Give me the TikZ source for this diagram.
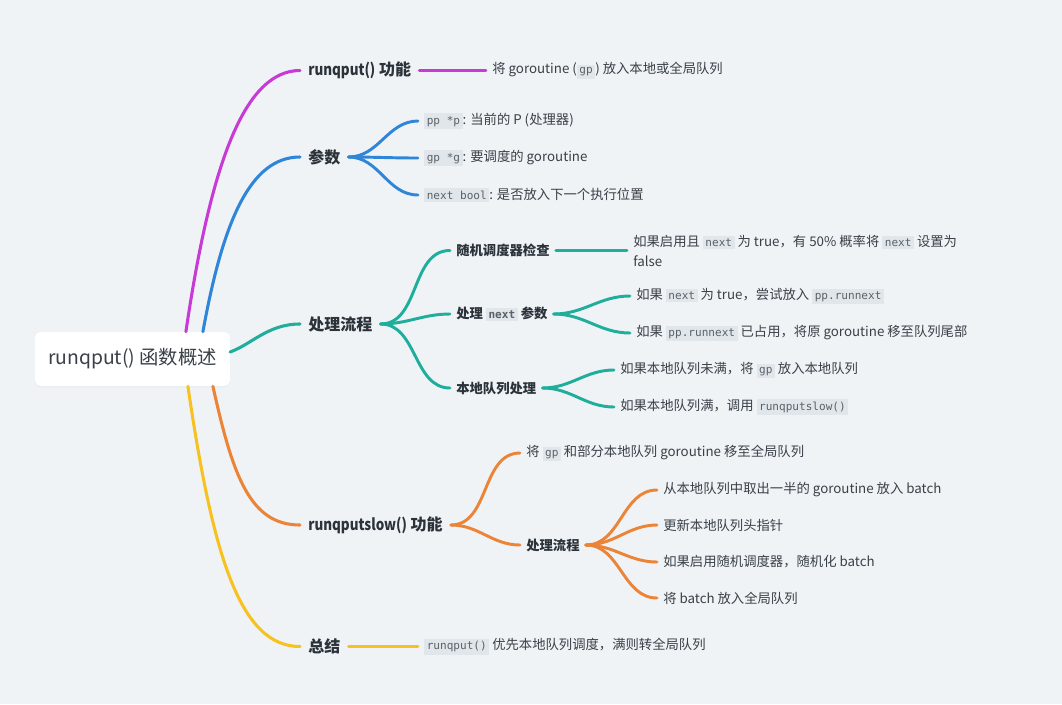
\documentclass[tikz,border=0pt]{standalone}
\usepackage{fontspec}
\setmainfont{Noto Sans CJK SC}
\setmonofont{DejaVu Sans Mono}
\newfontfamily\narrowlat{Noto Sans CJK SC}[FakeStretch=0.84]
\usepackage{tikz}
\usetikzlibrary{calc,shadows}

\definecolor{bgcol}{HTML}{EFF3F6}
\definecolor{codebg}{HTML}{E1E6EB}
\definecolor{codefg}{HTML}{5B6169}
\definecolor{txt}{HTML}{3A4048}
\definecolor{head}{HTML}{2B323A}
\definecolor{cmag}{HTML}{C83AD6}
\definecolor{cblue}{HTML}{2F86D8}
\definecolor{cteal}{HTML}{1FAE9B}
\definecolor{corange}{HTML}{EC8438}
\definecolor{cyellow}{HTML}{F7C21F}

\newcommand{\code}[1]{{\setlength{\fboxsep}{1.9pt}\colorbox{codebg}{\color{codefg}\ttfamily\fontsize{8.3}{9}\selectfont #1}}}

\begin{document}
\begin{tikzpicture}[
        x=0.75pt, y=-0.75pt,
        line cap=round,
        line join=round,
        rootbox/.style={fill=white, rounded corners=4pt, minimum width=146pt, minimum height=40.5pt,
            text=txt, font=\fontsize{14.5}{18}\selectfont,
            drop shadow={opacity=0.06, shadow xshift=0pt, shadow yshift=-1pt}},
        lvl1/.style={anchor=west, inner xsep=6pt, text=head, font=\fontsize{12}{14}\bfseries\selectfont},
        lvl2/.style={anchor=west, inner xsep=4.5pt, text=head, font=\fontsize{10}{13}\bfseries\selectfont},
        leaf/.style={anchor=west, inner xsep=4.5pt, text=txt, font=\fontsize{10}{15}\selectfont, align=left},
        trunk/.style={line width=2.3pt},
        link/.style={line width=2.2pt, out=0, in=180}
    ]
        \useasboundingbox[fill=bgcol] (0,0) rectangle (1062,704);

        \node[rootbox] (root) at (132.5,359) {runqput() 函数概述};

        % runqput() 功能
        \begin{scope}
            \node[lvl1] (fn) at (300,70.5) {{\narrowlat runqput()} 功能};
            \node[leaf] (fnleaf) at (486,70.5) {将 goroutine (\code{gp}) 放入本地或全局队列};

            \draw[trunk, cmag] ($(root.north west)+(151,0)$) .. controls +(25,-170) and +(-55,0) .. (fn.west);
            \draw[link, cmag] (fn.east) -- (fnleaf.west);
        \end{scope}

        % 参数
        \begin{scope}
            \node[lvl1] (param) at (300,157) {参数};

            \draw[trunk, cblue] ($(root.north west)+(168,0)$) .. controls +(20,-110) and +(-50,0) .. (param.west);

            \foreach \y/\lbl [count=\i] in {121/{\code{pp *p}: 当前的 P (处理器)},
                                            158/{\code{gp *g}: 要调度的 goroutine},
                                            195/{\code{next bool}: 是否放入下一个执行位置}}{
                \node[leaf] (par\i) at (418,\y) {\lbl};
                \draw[link, cblue] (param.east) to (par\i.west);
            }
        \end{scope}

        % 处理流程
        \begin{scope}
            \node[lvl1] (flow) at (300,324) {处理流程};
            \node[lvl2] (chk) at (450,250.5) {随机调度器检查};
            \node[lvl2] (nxt) at (450,314) {处理 \code{next} 参数};
            \node[lvl2] (loc) at (450,388) {本地队列处理};

            \node[leaf] (chkleaf) at (627,250.5) {如果启用且 \code{next} 为 true，有 50\% 概率将 \code{next} 设置为\\false};
            \node[leaf] (nxt1) at (630,296) {如果 \code{next} 为 true，尝试放入 \code{pp.runnext}};
            \node[leaf] (nxt2) at (630,333) {如果 \code{pp.runnext} 已占用，将原 goroutine 移至队列尾部};
            \node[leaf] (loc1) at (614,370) {如果本地队列未满，将 \code{gp} 放入本地队列};
            \node[leaf] (loc2) at (614,407) {如果本地队列满，调用 \code{runqputslow()}};

            \draw[trunk, cteal] ($(root.east)+(0,-7)$) .. controls +(22,-8) and +(-32,0) .. (flow.west);
            \foreach \s in {chk,nxt,loc}{
                \draw[link, cteal] (flow.east) to (\s.west);
            }
            \draw[link, cteal] (chk.east) -- (chkleaf.west);
            \draw[link, cteal] (nxt.east) to (nxt1.west);
            \draw[link, cteal] (nxt.east) to (nxt2.west);
            \draw[link, cteal] (loc.east) to (loc1.west);
            \draw[link, cteal] (loc.east) to (loc2.west);
        \end{scope}

        % runqputslow() 功能
        \begin{scope}
            \node[lvl1] (slow) at (300,525) {{\narrowlat runqputslow()} 功能};
            \node[leaf] (slow1) at (520,453) {将 \code{gp} 和部分本地队列 goroutine 移至全局队列};
            \node[lvl2] (sflow) at (520,545) {处理流程};

            \draw[trunk, corange] ($(root.south west)+(178,0)$) .. controls +(20,90) and +(-50,0) .. (slow.west);
            \draw[link, corange] (slow.east) to (slow1.west);
            \draw[link, corange] (slow.east) to (sflow.west);

            \foreach \y/\lbl [count=\i] in {490/{从本地队列中取出一半的 goroutine 放入 batch},
                                            525/{更新本地队列头指针},
                                            562/{如果启用随机调度器，随机化 batch},
                                            598/{将 batch 放入全局队列}}{
                \node[leaf] (sf\i) at (657,\y) {\lbl};
                \draw[link, corange] (sflow.east) to (sf\i.west);
            }
        \end{scope}

        % 总结
        \begin{scope}
            \node[lvl1] (sum) at (300,646.5) {总结};
            \node[leaf] (sumleaf) at (418,646.5) {\code{runqput()} 优先本地队列调度，满则转全局队列};

            \draw[trunk, cyellow] ($(root.south west)+(153,0)$) .. controls +(25,170) and +(-60,0) .. (sum.west);
            \draw[link, cyellow] (sum.east) -- (sumleaf.west);
        \end{scope}
    \end{tikzpicture}
\end{document}
